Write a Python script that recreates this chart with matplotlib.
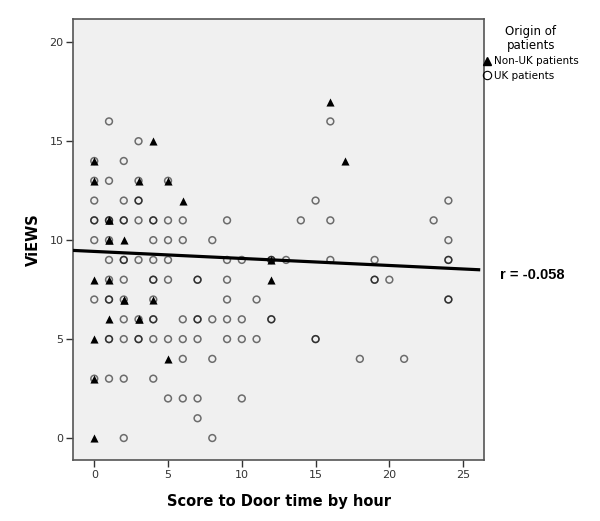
import numpy as np
import matplotlib
matplotlib.use('Agg')
import matplotlib.pyplot as plt
from matplotlib.lines import Line2D

# UK patients (circles); repeated entries are stacked points (darker rings)
uk_x = [0, 0, 0, 0, 0, 0, 0, 0,
        1, 1, 1, 1, 1, 1, 1, 1, 1, 1, 1, 1,
        2, 2, 2, 2, 2, 2, 2, 2, 2, 2, 2, 2,
        3, 3, 3, 3, 3, 3, 3, 3, 3,
        4, 4, 4, 4, 4, 4, 4, 4, 4, 4, 4,
        5, 5, 5, 5, 5, 5, 5,
        6, 6, 6, 6, 6, 6,
        7, 7, 7, 7, 7, 7, 7,
        8, 8, 8, 8,
        9, 9, 9, 9, 9, 9,
        10, 10, 10, 10,
        11, 11,
        12, 12, 12, 12,
        13, 14, 15, 15, 15,
        16, 16, 16,
        18, 19, 19, 19, 20, 21, 23,
        24, 24, 24, 24, 24, 24]
uk_y = [3, 7, 10, 11, 11, 12, 13, 14,
        16, 13, 11, 10, 9, 8, 7, 7, 5, 5, 3, 11,
        14, 12, 11, 11, 9, 9, 8, 7, 6, 5, 3, 0,
        15, 13, 12, 12, 11, 9, 6, 5, 5,
        11, 11, 10, 9, 8, 8, 7, 6, 6, 5, 3,
        13, 11, 10, 9, 8, 5, 2,
        11, 10, 6, 5, 4, 2,
        8, 8, 6, 6, 5, 2, 1,
        10, 6, 4, 0,
        11, 9, 8, 7, 6, 5,
        9, 6, 5, 2,
        7, 5,
        9, 9, 6, 6,
        9, 11, 12, 5, 5,
        16, 11, 9,
        4, 9, 8, 8, 8, 4, 11,
        12, 10, 9, 9, 7, 7]

# Non-UK patients (triangles)
non_uk_x = [0, 0, 0, 0, 0, 0, 1, 1, 1, 1, 1, 1, 2, 2, 2, 3, 3, 3, 4, 4,
            5, 5, 6, 12, 12, 16, 17]
non_uk_y = [0, 3, 5, 8, 13, 14, 11, 11, 10, 10, 8, 6, 10, 7, 7, 13, 6, 6, 15, 7,
            13, 4, 12, 9, 8, 17, 14]

# fit line
fit_intercept = 9.43
fit_slope = -0.0355
fit_x_end = 26.05
r_label = 'r = -0.058'

fig = plt.figure(figsize=(6.0, 5.21), dpi=100)
ax = fig.add_axes([73.3 / 600, 61 / 521, 410.5 / 600, 440.7 / 521])
ax.set_facecolor('#f0f0f0')

ax.scatter(uk_x, uk_y, s=24, marker='o', facecolors='none',
           edgecolors='black', linewidths=1.1, alpha=0.55, zorder=3)
ax.scatter(non_uk_x, non_uk_y, s=34, marker='^', color='black',
           linewidths=0, zorder=4)

xmin, xmax = -1.42, 26.4
fx = np.array([xmin, fit_x_end])
ax.plot(fx, fit_intercept + fit_slope * fx, color='black', lw=2.3, zorder=5)

ax.set_xlim(xmin, xmax)
ax.set_ylim(-1.11, 21.16)
ax.set_xticks([0, 5, 10, 15, 20, 25])
ax.set_yticks([0, 5, 10, 15, 20])
ax.tick_params(direction='out', length=5, width=1, color='#333333',
               labelsize=8, labelcolor='#333333', pad=2)
for s in ax.spines.values():
    s.set_color('#555555')
    s.set_linewidth(1.2)

ax.set_xlabel('Score to Door time by hour', fontsize=10.5, fontweight='bold', labelpad=10)
ax.set_ylabel('ViEWS', fontsize=10.5, fontweight='bold', labelpad=6)

fig.text(500 / 600, 1 - 275 / 521, r_label, fontsize=10.5, fontweight='bold',
         family='Liberation Sans', va='center', ha='left')

handles = [Line2D([], [], marker='^', color='black', ls='none', markersize=6),
           Line2D([], [], marker='o', markerfacecolor='none', markeredgecolor='black',
                  markeredgewidth=0.8, ls='none', markersize=6)]
leg = fig.legend(handles, ['Non-UK patients', 'UK patients'], title='Origin of\npatients',
                 loc='upper left', bbox_to_anchor=(482.5 / 600, 1 - 25 / 521),
                 frameon=False, fontsize=7.5, title_fontsize=8.5, handletextpad=0.35,
                 handlelength=0.8, labelspacing=0.45, borderaxespad=0, borderpad=0)
leg.get_title().set_multialignment('center')
leg.get_title().set_linespacing(1.05)

fig.savefig('out.png', dpi=100)
